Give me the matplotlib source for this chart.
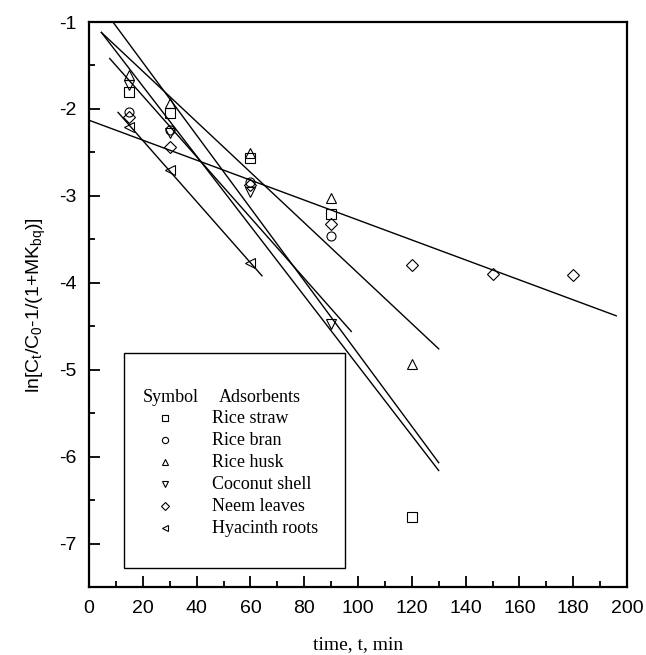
import matplotlib
matplotlib.use("Agg")
import matplotlib.pyplot as plt
from matplotlib.patches import Rectangle
from matplotlib.ticker import MultipleLocator

plt.rcParams['font.family'] = 'Liberation Sans'
plt.rcParams['mathtext.default'] = 'regular'
plt.rcParams['axes.unicode_minus'] = False

# adsorbents, markers and measured points
names = ['Rice straw', 'Rice bran', 'Rice husk', 'Coconut shell', 'Neem leaves', 'Hyacinth roots']
markers = ['s', 'o', '^', 'v', 'D', '<']

straw_t = [15, 30, 60, 90, 120]
straw_y = [-1.80, -2.05, -2.57, -3.21, -6.69]
bran_t = [15, 30, 60, 90]
bran_y = [-2.04, -2.24, -2.84, -3.46]
husk_t = [15, 30, 60, 90, 120]
husk_y = [-1.61, -1.93, -2.51, -3.02, -4.93]
coco_t = [15, 30, 60, 90]
coco_y = [-1.73, -2.28, -2.96, -4.47]
neem_t = [15, 30, 60, 90, 120, 150, 180]
neem_y = [-2.09, -2.44, -2.88, -3.32, -3.79, -3.90, -3.91]
hyac_t = [15, 30, 60]
hyac_y = [-2.21, -2.70, -3.77]

series_t = [straw_t, bran_t, husk_t, coco_t, neem_t, hyac_t]
series_y = [straw_y, bran_y, husk_y, coco_y, neem_y, hyac_y]

# fitted lines (start/end)
fit_x0 = [8.9, 4.6, 4.6, 7.7, 0.0, 10.8]
fit_y0 = [-1.00, -1.12, -1.12, -1.42, -2.13, -2.04]
fit_x1 = [130.0, 130.0, 130.0, 97.5, 196.0, 64.3]
fit_y1 = [-6.07, -6.16, -4.76, -4.56, -4.38, -3.92]

fig = plt.figure(figsize=(6.46, 6.55), dpi=100)
ax = fig.add_axes([0.1378, 0.1038, 0.8328, 0.8626])

for t, y, m in zip(series_t, series_y, markers):
    ms = 6 if m == 'D' else 6.5
    ax.plot(t, y, linestyle='none', marker=m, markersize=ms,
            markerfacecolor='none', markeredgecolor='black', markeredgewidth=0.8)

for x0, y0, x1, y1 in zip(fit_x0, fit_y0, fit_x1, fit_y1):
    ax.plot([x0, x1], [y0, y1], color='black', linewidth=1.0)

ax.set_xlim(0, 200)
ax.set_ylim(-7.5, -1)
ax.xaxis.set_major_locator(MultipleLocator(20))
ax.xaxis.set_minor_locator(MultipleLocator(10))
ax.yaxis.set_major_locator(MultipleLocator(1))
ax.yaxis.set_minor_locator(MultipleLocator(0.5))
ax.tick_params(which='both', direction='in', top=False, right=False,
               labelsize=14, width=1.3)
ax.tick_params(which='major', length=8, pad=9)
ax.tick_params(which='minor', length=4)
for s in ax.spines.values():
    s.set_linewidth(1.6)

ax.set_xlabel('time, t, min', family='Liberation Serif', fontsize=14, labelpad=14)
ax.set_ylabel(r'ln[C$_t$/C$_0$-1/(1+MK$_{bq}$)]', fontsize=14, labelpad=8)

# legend table drawn by hand
ax.add_patch(Rectangle((0.065, 0.034), 0.411, 0.380, transform=ax.transAxes,
                       fill=False, edgecolor='black', linewidth=1.0))
ax.text(0.100, 0.336, 'Symbol', transform=ax.transAxes, family='Liberation Serif',
        fontsize=13, va='center')
ax.text(0.242, 0.336, 'Adsorbents', transform=ax.transAxes, family='Liberation Serif',
        fontsize=13, va='center')
rows = [0.299, 0.260, 0.221, 0.182, 0.143, 0.104]
for name, m, ry in zip(names, markers, rows):
    ax.plot([0.141], [ry], transform=ax.transAxes, linestyle='none', marker=m,
            markersize=4.5, markerfacecolor='none', markeredgecolor='black',
            markeredgewidth=0.8)
    ax.text(0.228, ry, name, transform=ax.transAxes, family='Liberation Serif',
            fontsize=13, va='center')

fig.savefig('out.png', dpi=100)
